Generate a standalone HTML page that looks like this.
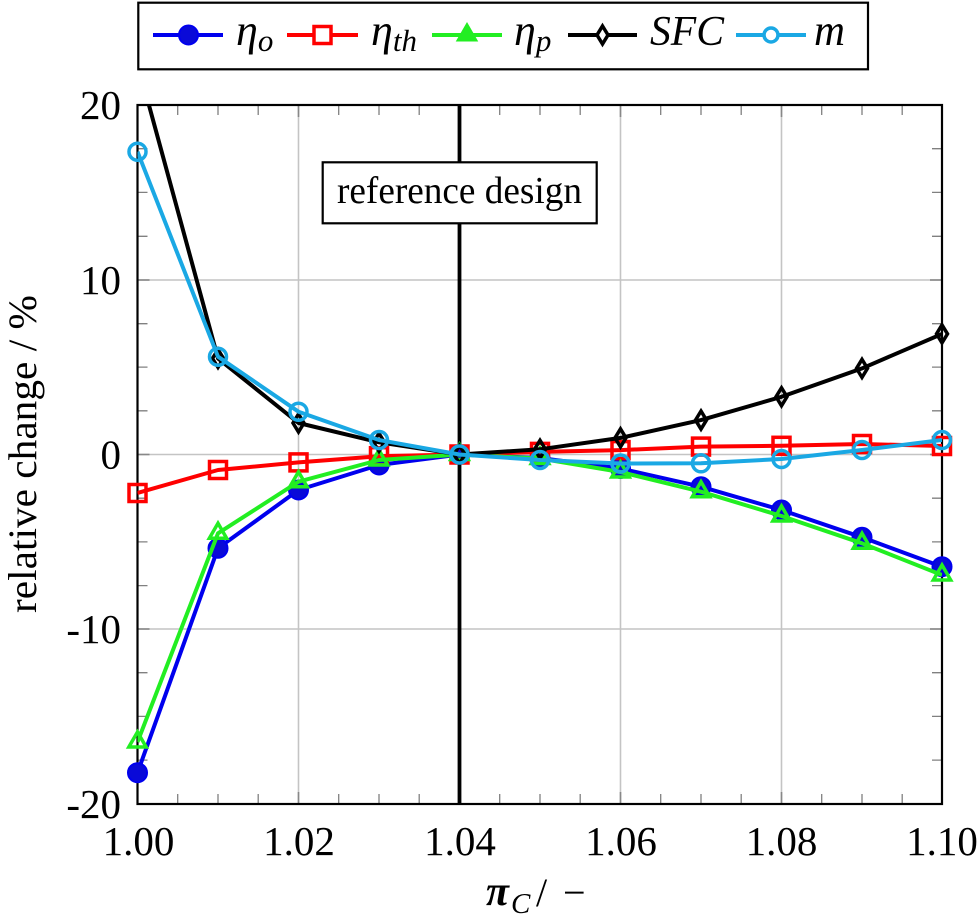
<!DOCTYPE html>
<html>
<head>
<meta charset="utf-8">
<style>
html,body{margin:0;padding:0;background:#fff;}
svg{display:block;}
text{font-family:"Liberation Serif","DejaVu Serif",serif;fill:#000;}
</style>
</head>
<body>
<svg width="980" height="919" viewBox="0 0 980 919" xmlns="http://www.w3.org/2000/svg">
<defs>
<clipPath id="plot"><rect x="137.5" y="105" width="804.5" height="699"/></clipPath>
</defs>
<rect x="0" y="0" width="980" height="919" fill="#fff"/>

<!-- grid -->
<g stroke="#c4c4c4" stroke-width="1.6">
<line x1="298.5" y1="105" x2="298.5" y2="804"/>
<line x1="620.5" y1="105" x2="620.5" y2="804"/>
<line x1="781.5" y1="105" x2="781.5" y2="804"/>
<line x1="137.5" y1="280" x2="942" y2="280"/>
<line x1="137.5" y1="454.5" x2="942" y2="454.5"/>
<line x1="137.5" y1="629" x2="942" y2="629"/>
</g>

<!-- major ticks -->
<g stroke="#888" stroke-width="1.6">
<line x1="298.5" y1="105" x2="298.5" y2="117"/><line x1="298.5" y1="804" x2="298.5" y2="792"/>
<line x1="620.5" y1="105" x2="620.5" y2="117"/><line x1="620.5" y1="804" x2="620.5" y2="792"/>
<line x1="781.5" y1="105" x2="781.5" y2="117"/><line x1="781.5" y1="804" x2="781.5" y2="792"/>
<line x1="137.5" y1="280" x2="149.5" y2="280"/><line x1="942" y1="280" x2="930" y2="280"/>
<line x1="137.5" y1="454.5" x2="149.5" y2="454.5"/><line x1="942" y1="454.5" x2="930" y2="454.5"/>
<line x1="137.5" y1="629" x2="149.5" y2="629"/><line x1="942" y1="629" x2="930" y2="629"/>
</g>

<!-- minor ticks -->
<g stroke="#808080" stroke-width="1.3">
<path d="
M177.7 105v10M177.7 804v-10
M218 105v10M218 804v-10
M258.2 105v10M258.2 804v-10
M338.7 105v10M338.7 804v-10
M379 105v10M379 804v-10
M419.2 105v10M419.2 804v-10
M499.7 105v10M499.7 804v-10
M540 105v10M540 804v-10
M580.2 105v10M580.2 804v-10
M660.7 105v10M660.7 804v-10
M701 105v10M701 804v-10
M741.2 105v10M741.2 804v-10
M821.7 105v10M821.7 804v-10
M862 105v10M862 804v-10
M902.2 105v10M902.2 804v-10
"/>
<path d="
M137.5 148.7h10M942 148.7h-10
M137.5 192.4h10M942 192.4h-10
M137.5 236.3h10M942 236.3h-10
M137.5 323.7h10M942 323.7h-10
M137.5 367.1h10M942 367.1h-10
M137.5 410.8h10M942 410.8h-10
M137.5 498.2h10M942 498.2h-10
M137.5 541.9h10M942 541.9h-10
M137.5 585.6h10M942 585.6h-10
M137.5 672.7h10M942 672.7h-10
M137.5 716.4h10M942 716.4h-10
M137.5 760.1h10M942 760.1h-10
"/>
</g>

<!-- reference vertical line -->
<line x1="459.5" y1="105" x2="459.5" y2="804" stroke="#000" stroke-width="3.8"/>

<!-- frame -->
<rect x="137.5" y="105" width="804.5" height="699" fill="none" stroke="#000" stroke-width="2.2"/>

<!-- reference design box -->
<rect x="322.7" y="162.3" width="274" height="61" fill="#fff" stroke="#000" stroke-width="2.2"/>
<text x="459.5" y="203" font-size="38" text-anchor="middle" textLength="245" lengthAdjust="spacingAndGlyphs">reference design</text>

<!-- eta_o (blue) -->
<g clip-path="url(#plot)">
<polyline fill="none" stroke="#0000ee" stroke-width="4" stroke-linejoin="round"
 points="137.5,772.7 218,548.3 298.5,490 379,465 459.5,454.5 540,458 620.5,468.5 701,486.7 781.5,510 862,537.3 942,566.7"/>
</g>
<g fill="#0a0ad8" stroke="#0000ee" stroke-width="2">
<circle cx="137.5" cy="772.7" r="9.5"/><circle cx="218" cy="548.3" r="9.5"/><circle cx="298.5" cy="490" r="9.5"/>
<circle cx="379" cy="465" r="9.5"/><circle cx="459.5" cy="454.5" r="9.5"/><circle cx="540" cy="458" r="9.5"/>
<circle cx="620.5" cy="468.5" r="9.5"/><circle cx="701" cy="486.7" r="9.5"/><circle cx="781.5" cy="510" r="9.5"/>
<circle cx="862" cy="537.3" r="9.5"/><circle cx="942" cy="566.7" r="9.5"/>
</g>

<!-- eta_th (red) -->
<g clip-path="url(#plot)">
<polyline fill="none" stroke="#ff0000" stroke-width="4" stroke-linejoin="round"
 points="137.5,493 218,470 298.5,462.4 379,456.2 459.5,454.5 540,451.9 620.5,450.1 701,446.6 781.5,445.8 862,444 942,446"/>
</g>
<g fill="none" stroke="#ff0000" stroke-width="3.5">
<rect x="129" y="484.5" width="17" height="17"/><rect x="209.5" y="461.5" width="17" height="17"/>
<rect x="290" y="453.9" width="17" height="17"/><rect x="370.5" y="447.7" width="17" height="17"/>
<rect x="451" y="446" width="17" height="17"/><rect x="531.5" y="443.4" width="17" height="17"/>
<rect x="612" y="441.6" width="17" height="17"/><rect x="692.5" y="438.1" width="17" height="17"/>
<rect x="773" y="437.3" width="17" height="17"/><rect x="853.5" y="435.5" width="17" height="17"/>
<rect x="933.5" y="437.5" width="17" height="17"/>
</g>

<!-- eta_p (green) -->
<g clip-path="url(#plot)">
<polyline fill="none" stroke="#22ee22" stroke-width="4" stroke-linejoin="round"
 points="137.5,742 218,533.3 298.5,481.7 379,460 459.5,454.5 540,458.5 620.5,472 701,491.7 781.5,516 862,543.3 942,575"/>
</g>
<g fill="none" stroke="#22ee22" stroke-width="3.5" stroke-linejoin="miter">
<path d="M137.5 732l8.66 15h-17.32z"/>
<path d="M218 523.3l8.66 15h-17.32z"/>
<path d="M298.5 471.7l8.66 15h-17.32z"/>
<path d="M379 450l8.66 15h-17.32z"/>
<path d="M459.5 444.5l8.66 15h-17.32z"/>
<path d="M540 448.5l8.66 15h-17.32z"/>
<path d="M620.5 462l8.66 15h-17.32z"/>
<path d="M701 481.7l8.66 15h-17.32z"/>
<path d="M781.5 506l8.66 15h-17.32z"/>
<path d="M862 533.3l8.66 15h-17.32z"/>
<path d="M942 565l8.66 15h-17.32z"/>
</g>

<!-- SFC (black) -->
<g clip-path="url(#plot)">
<polyline fill="none" stroke="#000" stroke-width="4" stroke-linejoin="round"
 points="137.5,63.1 218,358.4 298.5,423 379,442.3 459.5,454.5 540,449.3 620.5,437.9 701,420.1 781.5,396.8 862,368.4 942,333.9"/>
</g>
<g fill="none" stroke="#000" stroke-width="3.5">
<path d="M218 349.4l5.5 9l-5.5 9l-5.5 -9z"/>
<path d="M298.5 414l5.5 9l-5.5 9l-5.5 -9z"/>
<path d="M379 433.3l5.5 9l-5.5 9l-5.5 -9z"/>
<path d="M459.5 445.5l5.5 9l-5.5 9l-5.5 -9z"/>
<path d="M540 440.3l5.5 9l-5.5 9l-5.5 -9z"/>
<path d="M620.5 428.9l5.5 9l-5.5 9l-5.5 -9z"/>
<path d="M701 411.1l5.5 9l-5.5 9l-5.5 -9z"/>
<path d="M781.5 387.8l5.5 9l-5.5 9l-5.5 -9z"/>
<path d="M862 359.4l5.5 9l-5.5 9l-5.5 -9z"/>
<path d="M942 324.9l5.5 9l-5.5 9l-5.5 -9z"/>
</g>

<!-- m (cyan) -->
<g clip-path="url(#plot)">
<polyline fill="none" stroke="#1aa8e4" stroke-width="4" stroke-linejoin="round"
 points="137.5,151.7 218,356.7 298.5,411.7 379,440 459.5,454.5 540,460 620.5,463.5 701,463.3 781.5,459 862,450 942,440"/>
</g>
<g fill="none" stroke="#1aa8e4" stroke-width="3.5">
<circle cx="137.5" cy="151.7" r="8.5"/><circle cx="218" cy="356.7" r="8.5"/><circle cx="298.5" cy="411.7" r="8.5"/>
<circle cx="379" cy="440" r="8.5"/><circle cx="459.5" cy="454.5" r="8.5"/><circle cx="540" cy="460" r="8.5"/>
<circle cx="620.5" cy="463.5" r="8.5"/><circle cx="701" cy="463.3" r="8.5"/><circle cx="781.5" cy="459" r="8.5"/>
<circle cx="862" cy="450" r="8.5"/><circle cx="942" cy="440" r="8.5"/>
</g>

<!-- tick labels -->
<g font-size="41" text-anchor="middle">
<text x="138.5" y="855">1.00</text>
<text x="299" y="855">1.02</text>
<text x="460" y="855">1.04</text>
<text x="621" y="855">1.06</text>
<text x="781.5" y="855">1.08</text>
<text x="942" y="855">1.10</text>
</g>
<g font-size="41" text-anchor="end">
<text x="121" y="119">20</text>
<text x="121" y="294">10</text>
<text x="121" y="468.5">0</text>
<text x="121" y="643">-10</text>
<text x="121" y="818">-20</text>
</g>

<!-- axis titles -->
<text transform="translate(36,454) rotate(-90)" font-size="40" text-anchor="middle" textLength="318" lengthAdjust="spacingAndGlyphs">relative change / %</text>

<text x="486" y="905" font-size="42" font-style="italic" font-weight="bold">π</text>
<text x="511" y="913" font-size="29" font-style="italic">C</text>
<text x="536" y="906" font-size="40">/</text>
<text x="563" y="906" font-size="40">−</text>

<!-- legend -->
<rect x="138.3" y="2.7" width="729.7" height="66.6" fill="#fff" stroke="#000" stroke-width="2.2"/>
<line x1="153" y1="35" x2="223" y2="35" stroke="#0000ee" stroke-width="4"/>
<circle cx="188.5" cy="35" r="9.5" fill="#0a0ad8" stroke="#0000ee" stroke-width="2"/>
<text x="236" y="45" font-size="44" font-style="italic">η<tspan font-size="31" dy="6">o</tspan></text>

<line x1="287" y1="35" x2="358" y2="35" stroke="#ff0000" stroke-width="4"/>
<rect x="314" y="26.5" width="17" height="17" fill="#fff" stroke="#ff0000" stroke-width="3.5"/>
<text x="371" y="45" font-size="44" font-style="italic">η<tspan font-size="31" dy="6">th</tspan></text>

<line x1="432" y1="35" x2="502" y2="35" stroke="#22ee22" stroke-width="4"/>
<path d="M467 25l8.66 15h-17.32z" fill="#22ee22" stroke="#22ee22" stroke-width="3"/>
<text x="514" y="45" font-size="44" font-style="italic">η<tspan font-size="31" dy="6">p</tspan></text>

<line x1="568" y1="35" x2="637" y2="35" stroke="#000" stroke-width="4"/>
<path d="M602.5 26l5.5 9l-5.5 9l-5.5 -9z" fill="#fff" stroke="#000" stroke-width="3.5"/>
<text x="650" y="45" font-size="42" font-style="italic" textLength="74" lengthAdjust="spacingAndGlyphs">SFC</text>

<line x1="736" y1="35" x2="806" y2="35" stroke="#1aa8e4" stroke-width="4"/>
<circle cx="771" cy="35" r="7" fill="#fff" stroke="#1aa8e4" stroke-width="3.5"/>
<text x="814" y="45" font-size="44" font-style="italic" textLength="31" lengthAdjust="spacingAndGlyphs">m</text>
</svg>
</body>
</html>
